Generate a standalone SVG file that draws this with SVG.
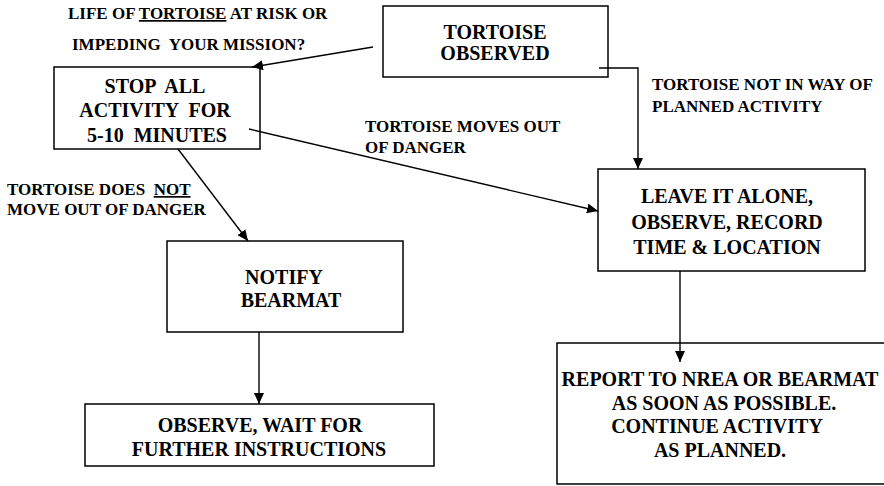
<svg xmlns="http://www.w3.org/2000/svg" width="884" height="486" viewBox="0 0 884 486">
<style>
.box{fill:#fff;stroke:#000;stroke-width:1.5}
text{font-family:'Liberation Serif','Times New Roman','DejaVu Serif',serif;font-weight:bold;fill:#000}
.bt{font-size:20px;text-anchor:middle}
.lb{font-size:17px}
.cn{fill:none;stroke:#000;stroke-width:1.4}
</style>
<defs>
<marker id="ah" markerUnits="userSpaceOnUse" markerWidth="12" markerHeight="10" refX="11" refY="5" orient="auto">
<path d="M0,0 L11,5 L0,10 Z" fill="#000"/>
</marker>
</defs>
<rect width="884" height="486" fill="#fff"/>
<g id="observed">
<rect class="box" x="383" y="6" width="225" height="71"/>
<text class="bt" x="495" y="39">TORTOISE</text>
<text class="bt" x="495" y="60">OBSERVED</text>
</g>
<g id="stop">
<rect class="box" x="54" y="67" width="206" height="82"/>
<text class="bt" x="155" y="93" xml:space="preserve">STOP  ALL</text>
<text class="bt" x="155" y="117" xml:space="preserve">ACTIVITY  FOR</text>
<text class="bt" x="157" y="142" xml:space="preserve">5-10  MINUTES</text>
</g>
<g id="leave">
<rect class="box" x="598" y="169" width="267" height="102"/>
<text class="bt" x="727" y="203">LEAVE IT ALONE,</text>
<text class="bt" x="727" y="229">OBSERVE, RECORD</text>
<text class="bt" x="727" y="254">TIME &amp; LOCATION</text>
</g>
<g id="notify">
<rect class="box" x="167" y="241" width="236" height="91"/>
<text class="bt" x="284" y="284">NOTIFY</text>
<text class="bt" x="291" y="307">BEARMAT</text>
</g>
<g id="observe">
<rect class="box" x="85" y="404" width="349" height="62"/>
<text class="bt" x="260" y="432">OBSERVE, WAIT FOR</text>
<text class="bt" x="259" y="456">FURTHER INSTRUCTIONS</text>
</g>
<g id="report">
<rect class="box" x="557" y="343" width="340" height="141"/>
<text class="bt" x="720" y="386">REPORT TO NREA OR BEARMAT</text>
<text class="bt" x="724" y="410">AS SOON AS POSSIBLE.</text>
<text class="bt" x="717" y="433">CONTINUE ACTIVITY</text>
<text class="bt" x="720" y="457">AS PLANNED.</text>
</g>
<g id="labels">
<text class="lb" x="68" y="19">LIFE OF <tspan text-decoration="underline">TORTOISE</tspan> AT RISK OR</text>
<text class="lb" x="72" y="50" xml:space="preserve">IMPEDING  YOUR MISSION?</text>
<text class="lb" x="365" y="132">TORTOISE MOVES OUT</text>
<text class="lb" x="365" y="153">OF DANGER</text>
<text class="lb" x="652" y="90">TORTOISE NOT IN WAY OF</text>
<text class="lb" x="652" y="112">PLANNED ACTIVITY</text>
<text class="lb" x="7" y="195" xml:space="preserve">TORTOISE DOES  <tspan text-decoration="underline">NOT</tspan></text>
<text class="lb" x="7" y="215">MOVE OUT OF DANGER</text>
</g>
<g id="connectors">
<line class="cn" x1="373" y1="47" x2="252" y2="67" marker-end="url(#ah)"/>
<polyline class="cn" points="599,68 638,68 638,169" marker-end="url(#ah)"/>
<line class="cn" x1="249" y1="129" x2="598" y2="211" marker-end="url(#ah)"/>
<line class="cn" x1="178" y1="149" x2="248" y2="241" marker-end="url(#ah)"/>
<line class="cn" x1="259" y1="332" x2="259" y2="404" marker-end="url(#ah)"/>
<line class="cn" x1="680" y1="271" x2="680" y2="362" marker-end="url(#ah)"/>
</g>
</svg>
